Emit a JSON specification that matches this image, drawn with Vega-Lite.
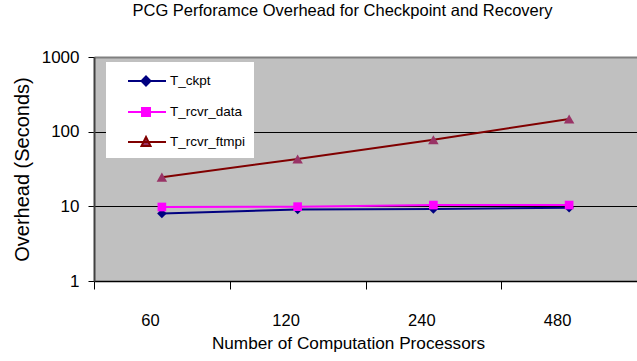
{
  "$schema": "https://vega.github.io/schema/vega-lite/v6.json",
  "width": 543,
  "height": 224,
  "autosize": {"type": "none"},
  "padding": {"left": 94, "top": 57, "right": 0, "bottom": 80},
  "background": "white",
  "title": {
    "text": "PCG Perforamce Overhead for Checkpoint and Recovery",
    "font": "Liberation Sans",
    "fontSize": 16.5,
    "fontWeight": "normal",
    "color": "black",
    "offset": 29,
    "dx": -23
  },
  "config": {
    "view": {"fill": "#c0c0c0", "stroke": null},
    "font": "Liberation Sans"
  },
  "data": {
    "values": [
      {"series": "T_ckpt", "procs": "60", "value": 8.0},
      {"series": "T_ckpt", "procs": "120", "value": 9.1},
      {"series": "T_ckpt", "procs": "240", "value": 9.2},
      {"series": "T_ckpt", "procs": "480", "value": 9.6},
      {"series": "T_rcvr_data", "procs": "60", "value": 9.8},
      {"series": "T_rcvr_data", "procs": "120", "value": 9.9},
      {"series": "T_rcvr_data", "procs": "240", "value": 10.4},
      {"series": "T_rcvr_data", "procs": "480", "value": 10.4},
      {"series": "T_rcvr_ftmpi", "procs": "60", "value": 24.6},
      {"series": "T_rcvr_ftmpi", "procs": "120", "value": 43},
      {"series": "T_rcvr_ftmpi", "procs": "240", "value": 78},
      {"series": "T_rcvr_ftmpi", "procs": "480", "value": 148}
    ]
  },
  "encoding": {
    "x": {
      "field": "procs",
      "type": "nominal",
      "sort": ["60", "120", "240", "480"],
      "scale": {"paddingInner": 0, "paddingOuter": 0},
      "axis": {
        "title": "Number of Computation Processors",
        "labelAngle": 0,
        "labelFontSize": 16.5,
        "labelColor": "black",
        "labelOffset": -12,
        "labelPadding": 23,
        "tickBand": "extent",
        "tickSize": 8,
        "tickColor": "black",
        "domainColor": "black",
        "domainWidth": 1.5,
        "titleFontSize": 17.2,
        "titleFontWeight": "normal",
        "titleColor": "black",
        "titlePadding": 6,
        "titleX": 254
      }
    },
    "y": {
      "field": "value",
      "type": "quantitative",
      "scale": {"type": "log", "domain": [1, 1000]},
      "axis": {
        "title": "Overhead (Seconds)",
        "values": [1, 10, 100, 1000],
        "format": "d",
        "grid": true,
        "gridColor": {"condition": {"test": "datum.value === 1000", "value": "#808080"}, "value": "black"},
        "gridWidth": {"condition": {"test": "datum.value === 1000", "value": 2}, "value": 1},
        "gridOpacity": 1,
        "domainColor": "#404040",
        "domainWidth": 2,
        "tickColor": "black",
        "tickSize": 6,
        "labelPadding": 9,
        "labelFontSize": 17,
        "labelColor": "black",
        "titleFontSize": 20,
        "titleFontWeight": "normal",
        "titleColor": "black",
        "titlePadding": 9
      }
    }
  },
  "layer": [
    {
      "mark": {"type": "line", "strokeWidth": 2},
      "encoding": {
        "color": {
          "field": "series",
          "type": "nominal",
          "scale": {
            "domain": ["T_ckpt", "T_rcvr_data", "T_rcvr_ftmpi"],
            "range": ["#000080", "#ff00ff", "#800000"]
          },
          "legend": {
            "title": null,
            "orient": "none",
            "legendX": 12,
            "legendY": 5,
            "fillColor": "white",
            "padding": 8,
            "symbolSize": 400,
            "rowPadding": 11,
            "labelOffset": 34,
            "labelFontSize": 13.5,
            "labelColor": "black",
            "encode": {
              "symbols": {
                "update": {
                  "shape": {"signal": "datum.value === 'T_ckpt' ? 'M0.3,0L4.1,0M2.1,-0.45L2.55,0L2.1,0.45L1.65,0Z' : datum.value === 'T_rcvr_data' ? 'M0.3,0L4.1,0M1.7,-0.4L2.5,-0.4L2.5,0.4L1.7,0.4Z' : 'M0.3,0L4.1,0M2.1,-0.5L2.55,0.4L1.65,0.4Z'"},
                  "fill": {"signal": "datum.value === 'T_ckpt' ? '#000080' : datum.value === 'T_rcvr_data' ? '#ff00ff' : '#993366'"},
                  "fillOpacity": {"value": 1},
                  "strokeWidth": {"value": 2}
                }
              }
            }
          }
        }
      }
    },
    {
      "transform": [{"filter": "datum.series === 'T_ckpt'"}],
      "mark": {"type": "point", "filled": true, "opacity": 1, "size": 90, "shape": "diamond", "fill": "#000080"}
    },
    {
      "transform": [{"filter": "datum.series === 'T_rcvr_data'"}],
      "mark": {"type": "point", "filled": true, "opacity": 1, "size": 75, "shape": "square", "fill": "#ff00ff"}
    },
    {
      "transform": [{"filter": "datum.series === 'T_rcvr_ftmpi'"}],
      "mark": {"type": "point", "filled": true, "opacity": 1, "size": 110, "shape": "triangle-up", "fill": "#993366"}
    }
  ]
}
